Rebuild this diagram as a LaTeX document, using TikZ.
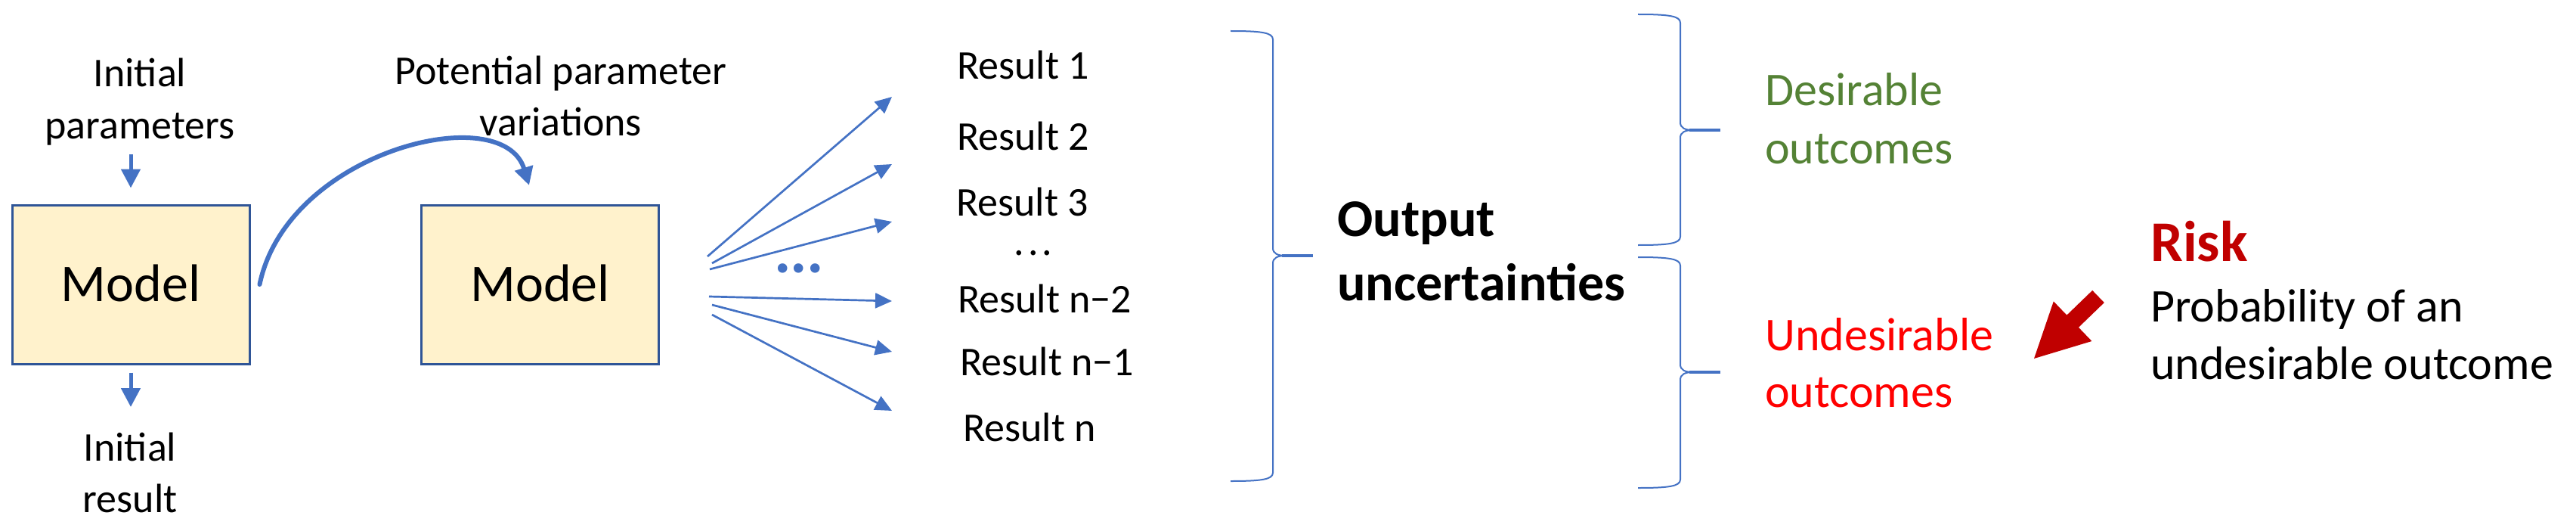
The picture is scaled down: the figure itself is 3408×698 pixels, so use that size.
\documentclass[tikz,border=0pt]{standalone}
\usepackage{fontspec}
\setmainfont{Carlito}
\usetikzlibrary{arrows.meta}
\definecolor{arrblue}{HTML}{4472C4}
\definecolor{boxblue}{HTML}{2F5597}
\definecolor{boxfill}{HTML}{FFF2CC}
\definecolor{goodgreen}{HTML}{548235}
\definecolor{badred}{HTML}{FF0000}
\definecolor{riskred}{HTML}{C00000}
\newcommand\obrace[6]{%
  \draw[bracestyle] (#1,#4) .. controls ({#2-16},#4) and (#2,{#4+2}) .. (#2,{#4+11}) -- (#2,{#5-10}) .. controls (#2,{#5-3}) and ({#2+6},#5) .. ({#2+17},#5);
  \draw[bracestyle] ({#2+17},#5) .. controls ({#2+6},#5) and (#2,{#5+3}) .. (#2,{#5+10}) -- (#2,{#6-11}) .. controls (#2,{#6-2}) and ({#2-16},#6) .. (#1,#6);
  \draw[bracestyle, line width=4pt] ({#2+12},#5) -- (#3,#5);
}
\begin{document}
\begin{tikzpicture}[x=1pt,y=-1pt,
  txt/.style={inner sep=0pt, anchor=base, font=\fontsize{54}{64}\selectfont},
  restxt/.style={inner sep=0pt, anchor=base west, font=\fontsize{54}{64}\selectfont},
  bigtxt/.style={inner sep=0pt, anchor=base west, font=\fontsize{62}{74}\selectfont},
  boldtxt/.style={inner sep=0pt, anchor=base west, font=\bfseries\fontsize{70}{84}\selectfont},
  modelbox/.style={draw=boxblue, line width=3pt, fill=boxfill, minimum width=314pt, minimum height=210pt, inner sep=0pt, text height=45pt, text depth=0pt, font=\fontsize{70}{84}\selectfont},
  smallarr/.style={draw=arrblue, line width=5pt, -{Triangle[length=25pt,width=25pt]}},
  curvarr/.style={draw=arrblue, line width=6pt, line cap=round, -{Triangle[length=24pt,width=24pt]}},
  fanarr/.style={draw=arrblue, line width=2.7pt, -{Triangle[length=22pt,width=20pt]}},
  bracestyle/.style={draw=arrblue, line width=2pt}
]
\useasboundingbox (0,0) rectangle (3408,698);

% boxes
\node[modelbox] (m1) at (173,376) {Model};
\node[modelbox] (m2) at (714.5,376) {Model};

% input / output labels
\node[txt] (ip1) at (185,115) {Initial};
\node[txt] (ip2) at (185,183) {parameters};
\node[txt] (ir1) at (172,609) {Initial};
\node[txt] (ir2) at (172,677) {result};
\node[txt] (pp1) at (742,112) {Potential parameter};
\node[txt] (pp2) at (742,179) {variations};

\coordinate (a1s) at (173,204);
\coordinate (a2e) at (173,538);
\draw[smallarr, shorten >=21pt] (a1s) -- (m1.north);
\draw[smallarr, shorten <=10pt] (m1.south) -- (a2e);

% curved arrow
\coordinate (cve) at (700,245);
\draw[curvarr] ([xshift=12pt]m1.east) .. controls (380,200) and (665,130) .. (cve);

% fan arrows
\coordinate (f1s) at (936,339); \coordinate (f1e) at (1180,128);
\coordinate (f2s) at (942,348); \coordinate (f2e) at (1180,217);
\coordinate (f3s) at (939,356); \coordinate (f3e) at (1180,293);
\coordinate (f4s) at (938,392); \coordinate (f4e) at (1180,398);
\coordinate (f5s) at (942,403); \coordinate (f5e) at (1180,465);
\coordinate (f6s) at (942,416); \coordinate (f6e) at (1180,543);
\foreach \i in {1,...,6} { \draw[fanarr] (f\i s) -- (f\i e); }
\node[inner sep=0pt, anchor=base, text=arrblue, font=\bfseries\fontsize{84}{90}\selectfont] (bdots) at (1057,360) {.\kern-1pt.\kern-1pt.};

% results
\node[restxt] (r1) at (1266,105) {Result 1};
\node[restxt] (r2) at (1266,198) {Result 2};
\node[restxt] (r3) at (1265,285) {Result 3};
\node[inner sep=0pt, anchor=base, font=\fontsize{54}{60}\selectfont] (rdots) at (1367,337) {.\kern5pt.\kern5pt.};
\node[restxt] (r4) at (1267,413) {Result n−2};
\node[restxt] (r5) at (1270,496) {Result n−1};
\node[restxt] (r6) at (1274,583) {Result n};

% big brace and output
\obrace{1628}{1684}{1737}{41}{338}{636}
\node[boldtxt] (ou1) at (1769,312) {Output};
\node[boldtxt] (ou2) at (1769,397) {uncertainties};

% small braces
\obrace{2167}{2223}{2276}{19}{172}{324}
\obrace{2167}{2223}{2276}{340}{492}{645}

\node[bigtxt, text=goodgreen] (de1) at (2335,140) {Desirable};
\node[bigtxt, text=goodgreen] (de2) at (2335,216) {outcomes};
\node[bigtxt, text=badred] (un1) at (2335,463) {Undesirable};
\node[bigtxt, text=badred] (un2) at (2335,538) {outcomes};

% risk
\node[inner sep=0pt, anchor=base west, text=riskred, font=\bfseries\fontsize{76}{90}\selectfont] (risk) at (2845,345) {Risk};
\node[bigtxt] (pr1) at (2845,425) {Probability of an};
\node[bigtxt] (pr2) at (2845,501) {undesirable outcome};

\fill[riskred] (2768.2,383.9) -- (2783.8,400.1) -- (2749.9,432.8) -- (2767.4,451.0) -- (2691,474) -- (2716.8,398.4) -- (2734.3,416.6) -- cycle;
\end{tikzpicture}
\end{document}
